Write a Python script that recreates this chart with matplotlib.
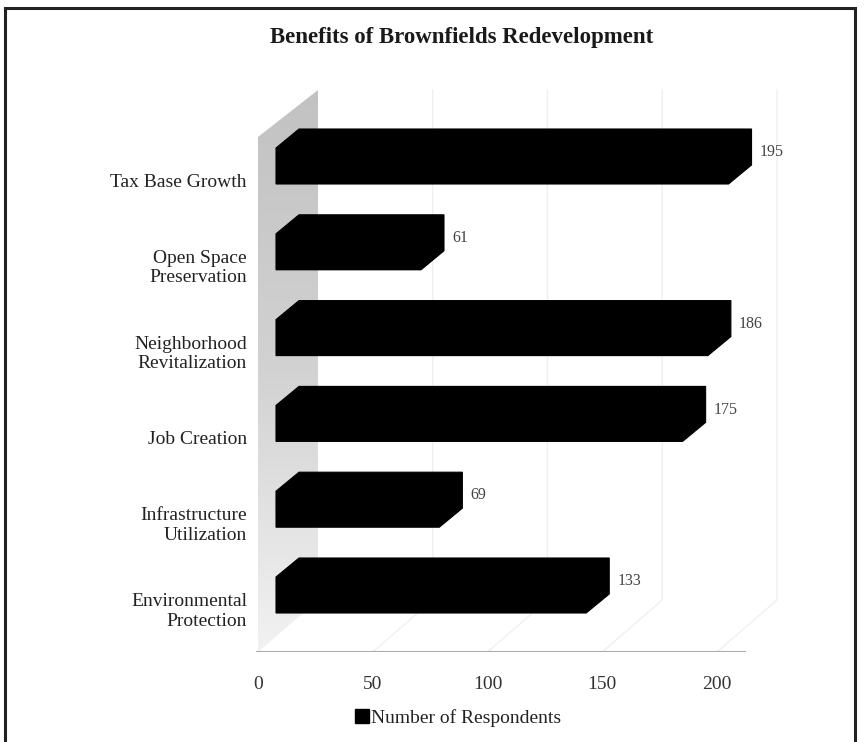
import matplotlib
matplotlib.use("Agg")
import matplotlib.pyplot as plt
import numpy as np
from matplotlib.patches import Polygon, Rectangle, Patch

categories = ["Tax Base Growth", "Open Space\nPreservation", "Neighborhood\nRevitalization",
              "Job Creation", "Infrastructure\nUtilization", "Environmental\nProtection"]
values = [195, 61, 186, 175, 69, 133]
tick_values = [0, 50, 100, 150, 200]
tick_labels = ["0", "50", "100", "150", "200"]
title = "Benefits of Brownfields Redevelopment"
legend_label = "Number of Respondents"

W, H = 868, 742
fig = plt.figure(figsize=(W / 100, H / 100), dpi=100)
fig.patch.set_facecolor("white")
serif = "Liberation Serif"

# axes rectangle in pixels
L, R, T, B = 250, 800, 85, 652
rect = [L / W, 1 - B / H, (R - L) / W, (B - T) / H]

# main (scale) axis: 0 at 258 px
px0, ppu = 258.0, 2.295
ax = fig.add_axes(rect)
py0, ppc = 166.0, 85.8
for s in ax.spines.values():
    s.set_visible(False)
ax.set_yticks([])
ax.set_xticks(tick_values)
ax.set_xticklabels(tick_labels, fontfamily=serif, fontsize=14, color="#333333")
ax.tick_params(axis="x", length=0, pad=17)
ax.patch.set_alpha(0)

def X(px):
    return (px - px0) / ppu

def Y(py):
    return (py - py0) / ppc

# back wall with gradient
wall = Polygon([(X(258), Y(137)), (X(318), Y(90)), (X(318), Y(600)), (X(258), Y(652))],
               closed=True, facecolor="none", edgecolor="none")
ax.add_patch(wall)
grad = np.linspace(0, 1, 256).reshape(-1, 1)
im = ax.imshow(grad, cmap=matplotlib.colors.LinearSegmentedColormap.from_list(
    "w", ["#c2c2c2", "#d2d2d2", "#f2f2f2"]), aspect="auto",
    extent=(X(258), X(318), Y(652), Y(90)), origin="upper", zorder=1)
im.set_clip_path(wall)
ax.set_xlim((L - px0) / ppu, (R - px0) / ppu)
ax.set_ylim((B - py0) / ppc, (T - py0) / ppc)

# faint gridlines on floor and back
depth_px = 60
for t in tick_values[1:]:
    px = px0 + ppu * t
    ax.plot([t, X(px + depth_px), X(px + depth_px)], [Y(652), Y(600), Y(90)],
            color="#f0f0f0", lw=1, zorder=0.5)
# floor front edge
ax.plot([X(257), X(745)], [Y(652), Y(652)], color="#aaaaaa", lw=1.5, zorder=2)

# bar axis: same scale, bars' front face starts 23 px to the right
bx0 = 281.0
ax2 = fig.add_axes(rect)
ax2.set_xlim((L - bx0) / ppu, (R - bx0) / ppu)
ax2.set_ylim(ax.get_ylim())
ax2.axis("off")
ax2.patch.set_alpha(0)

h = 36 / ppc
dx = 23 / ppu
dy = -19 / ppc
x_start = (276 - bx0) / ppu
ypos = np.arange(len(categories))
vals = np.array(values, dtype=float)
ax2.barh(ypos, vals - x_start, left=x_start, height=h, color="black", zorder=3)
for y, v in zip(ypos, vals):
    poly = Polygon([(x_start, y + h / 2), (x_start, y - h / 2),
                    (x_start + dx, y - h / 2 + dy), (v + dx, y - h / 2 + dy),
                    (v + dx, y + h / 2 + dy), (v, y + h / 2)],
                   closed=True, facecolor="black", edgecolor="black", lw=0.8, zorder=3)
    ax2.add_patch(poly)
    ax2.text(v + dx + 3.5, y - 0.16, f"{int(v)}", fontfamily=serif, fontsize=11.5,
             color="#444444", ha="left", va="center")

# category labels
for y, c in zip(ypos, categories):
    ax.text(X(247), y + 0.19, c, fontfamily=serif, fontsize=14, color="#222222",
            ha="right", va="center", linespacing=1.2, clip_on=False)

# title
fig.text(462 / W, 1 - 37 / H, title, fontfamily=serif, fontsize=16.5, fontweight="bold",
         ha="center", va="center", color="#1a1a1a")

# legend
fig.legend(handles=[Patch(facecolor="black", edgecolor="black", label=legend_label)],
           loc="center", bbox_to_anchor=(458 / W, 1 - 718 / H), frameon=False,
           prop={"family": serif, "size": 14}, handlelength=0.7, handleheight=0.7,
           handletextpad=0.1, labelcolor="#222222")

# outer frame
fig.add_artist(Rectangle((5 / W, -0.05), (855 - 5) / W, 1.05 - 8 / H,
                         transform=fig.transFigure, facecolor="none",
                         edgecolor="#222222", lw=2.2, clip_on=False))

fig.savefig("out.png", dpi=100)
